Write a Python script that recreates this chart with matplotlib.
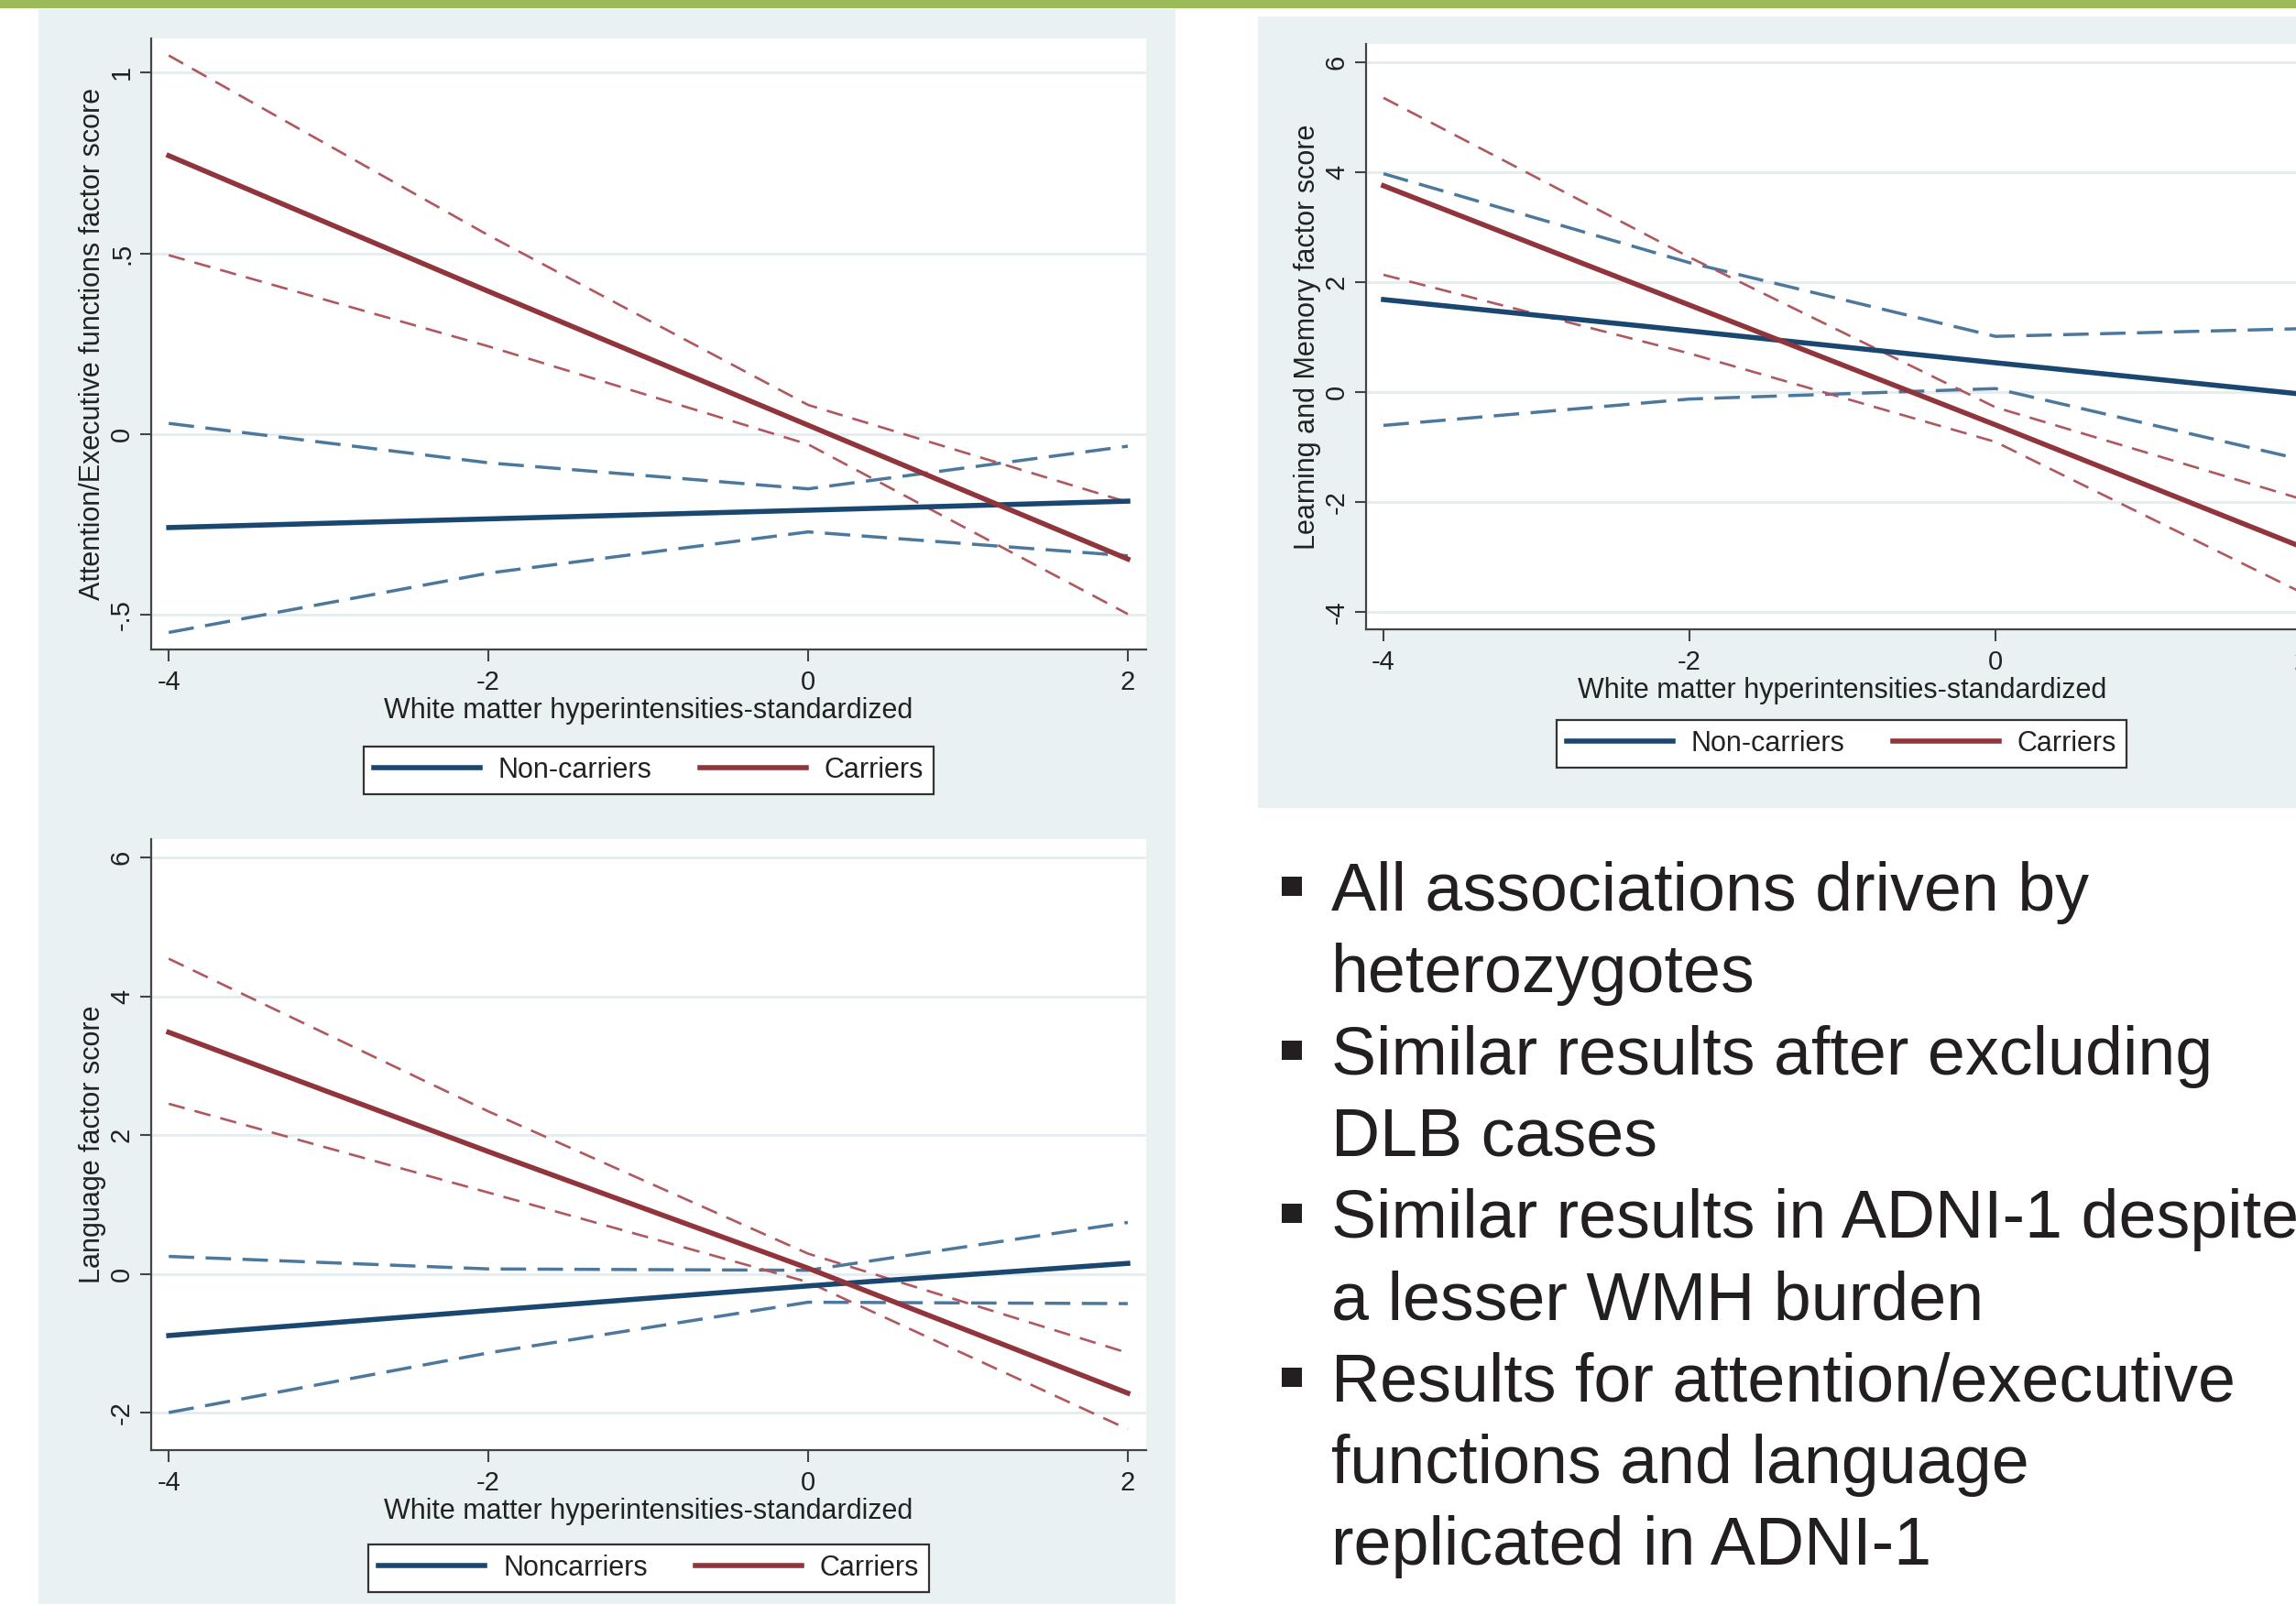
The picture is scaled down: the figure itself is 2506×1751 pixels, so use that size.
import matplotlib.pyplot as plt
from matplotlib.patches import Rectangle

plt.rcParams['font.family'] = ['Liberation Sans', 'DejaVu Sans']
plt.rcParams['lines.scale_dashes'] = False

# WMH values where margins were evaluated
wmh = [-4, -2, 0, 2]

# attention / executive functions
att_non = [-0.258, -0.234, -0.210, -0.185]
att_non_hi = [0.030, -0.079, -0.151, -0.033]
att_non_lo = [-0.548, -0.384, -0.270, -0.336]
att_car = [0.770, 0.395, 0.025, -0.345]
att_car_hi = [1.047, 0.550, 0.081, -0.188]
att_car_lo = [0.495, 0.243, -0.028, -0.497]

# learning and memory
mem_non = [1.68, 1.11, 0.53, -0.04]
mem_non_hi = [3.97, 2.35, 1.01, 1.15]
mem_non_lo = [-0.61, -0.13, 0.06, -1.23]
mem_car = [3.75, 1.58, -0.60, -2.82]
mem_car_hi = [5.35, 2.45, -0.28, -1.95]
mem_car_lo = [2.13, 0.70, -0.91, -3.65]

# language
lang_non = [-0.89, -0.53, -0.175, 0.15]
lang_non_hi = [0.25, 0.07, 0.05, 0.74]
lang_non_lo = [-2.00, -1.14, -0.41, -0.43]
lang_car = [3.48, 1.76, 0.08, -1.72]
lang_car_hi = [4.54, 2.34, 0.29, -1.14]
lang_car_lo = [2.45, 1.17, -0.12, -2.24]

xlab = 'White matter hyperintensities-standardized'

bullets = [
    ('All associations driven by', True),
    ('heterozygotes', False),
    ('Similar results after excluding', True),
    ('DLB cases', False),
    ('Similar results in ADNI-1 despite', True),
    ('a lesser WMH burden', False),
    ('Results for attention/executive', True),
    ('functions and language', False),
    ('replicated in ADNI-1', False),
]

W, H = 2506, 1751
navy, maroon = '#1A476F', '#90353B'
navy_ci, maroon_ci = '#4C789E', '#B0575F'
bg = '#E9F1F3'
axcol = '#444444'

fig = plt.figure(figsize=(W / 100, H / 100), dpi=100)


def box(x0, y0, x1, y1):
    # pixel box measured from top-left -> figure fraction rect
    return [x0 / W, 1 - y1 / H, (x1 - x0) / W, (y1 - y0) / H]


def add_rect(x0, y0, x1, y1, color, z=-10):
    r = box(x0, y0, x1, y1)
    fig.add_artist(Rectangle((r[0], r[1]), r[2], r[3], transform=fig.transFigure,
                             facecolor=color, edgecolor='none', zorder=z))


# slide decoration
add_rect(0, 0, W, 9, '#9BBB59')
add_rect(42, 10, 1283, 883, bg)
add_rect(42, 883, 1283, H, bg)
add_rect(1373, 18, W, 882, bg)


def panel(px, xlim, ylim, yticks, ylabs, ylabel, non, non_hi, non_lo,
          car, car_hi, car_lo, labels, leg_xy):
    ax = fig.add_axes(box(*px))
    ax.set_facecolor('white')
    ax.plot(wmh, non_hi, color=navy_ci, lw=2.5, dashes=(20, 9), zorder=3)
    ax.plot(wmh, non_lo, color=navy_ci, lw=2.5, dashes=(20, 9), zorder=3)
    ax.plot(wmh, car_hi, color=maroon_ci, lw=1.9, dashes=(13, 8), zorder=3)
    ax.plot(wmh, car_lo, color=maroon_ci, lw=1.9, dashes=(13, 8), zorder=3)
    l1, = ax.plot(wmh, non, color=navy, lw=4, zorder=4, label=labels[0])
    l2, = ax.plot(wmh, car, color=maroon, lw=4, zorder=4, label=labels[1])
    ax.set_xlim(xlim)
    ax.set_ylim(ylim)
    ax.set_xticks(wmh, [str(v) for v in wmh])
    ax.set_yticks(yticks, ylabs, rotation=90, va='center')
    ax.yaxis.grid(True, color='#E3EDF0', lw=2)
    ax.set_axisbelow(True)
    for s in ['top', 'right']:
        ax.spines[s].set_visible(False)
    for s in ['left', 'bottom']:
        ax.spines[s].set_color(axcol)
        ax.spines[s].set_linewidth(1.6)
    ax.tick_params(direction='out', length=9, width=1.5, color=axcol,
                   labelsize=21, labelcolor='#222222')
    ax.tick_params(axis='y', pad=4)
    ax.tick_params(axis='x', pad=6.5)
    h = px[3] - px[1]
    ax.set_xlabel(xlab, fontsize=22, color='#222222')
    ax.xaxis.set_label_coords(0.5, -52 / h)
    ax.set_ylabel(ylabel, fontsize=22, color='#222222')
    ax.yaxis.set_label_coords(-49 / (px[2] - px[0]), 0.5)
    leg = ax.legend(handles=[l1, l2], loc='center', ncol=2,
                    bbox_to_anchor=(leg_xy[0] / W, 1 - leg_xy[1] / H),
                    bbox_transform=fig.transFigure, fontsize=22,
                    frameon=True, fancybox=False, framealpha=1,
                    edgecolor='#333333', handlelength=3.8, handletextpad=0.65,
                    columnspacing=1.7, borderpad=0.35)
    leg.get_frame().set_linewidth(1.6)
    for t in leg.get_texts():
        t.set_color('#222222')
    return ax


panel((165, 42, 1251, 709), (-4.11, 2.115), (-0.595, 1.094),
      [-0.5, 0, 0.5, 1], ['-.5', '0', '.5', '1'],
      'Attention/Executive functions factor score',
      att_non, att_non_hi, att_non_lo, att_car, att_car_hi, att_car_lo,
      ['Non-carriers', 'Carriers'], (708, 841))

panel((1491, 48, 2531, 687), (-4.114, 2.114), (-4.32, 6.33),
      [-4, -2, 0, 2, 4, 6], ['-4', '-2', '0', '2', '4', '6'],
      'Learning and Memory factor score',
      mem_non, mem_non_hi, mem_non_lo, mem_car, mem_car_hi, mem_car_lo,
      ['Non-carriers', 'Carriers'], (2010, 812))

panel((165, 916, 1251, 1583), (-4.11, 2.115), (-2.541, 6.264),
      [-2, 0, 2, 4, 6], ['-2', '0', '2', '4', '6'],
      'Language factor score',
      lang_non, lang_non_hi, lang_non_lo, lang_car, lang_car_hi, lang_car_lo,
      ['Noncarriers', 'Carriers'], (708, 1712))

# bullet text on the right
base0, step = 994, 89.25
for i, (line, has_bullet) in enumerate(bullets):
    yb = base0 + i * step
    fig.text(1453 / W, 1 - yb / H, line, fontsize=53, color='#231F20',
             va='baseline', ha='left')
    if has_bullet:
        add_rect(1399, yb - 37, 1421, yb - 16, '#231F20', z=5)

fig.savefig('out.png', dpi=100)
